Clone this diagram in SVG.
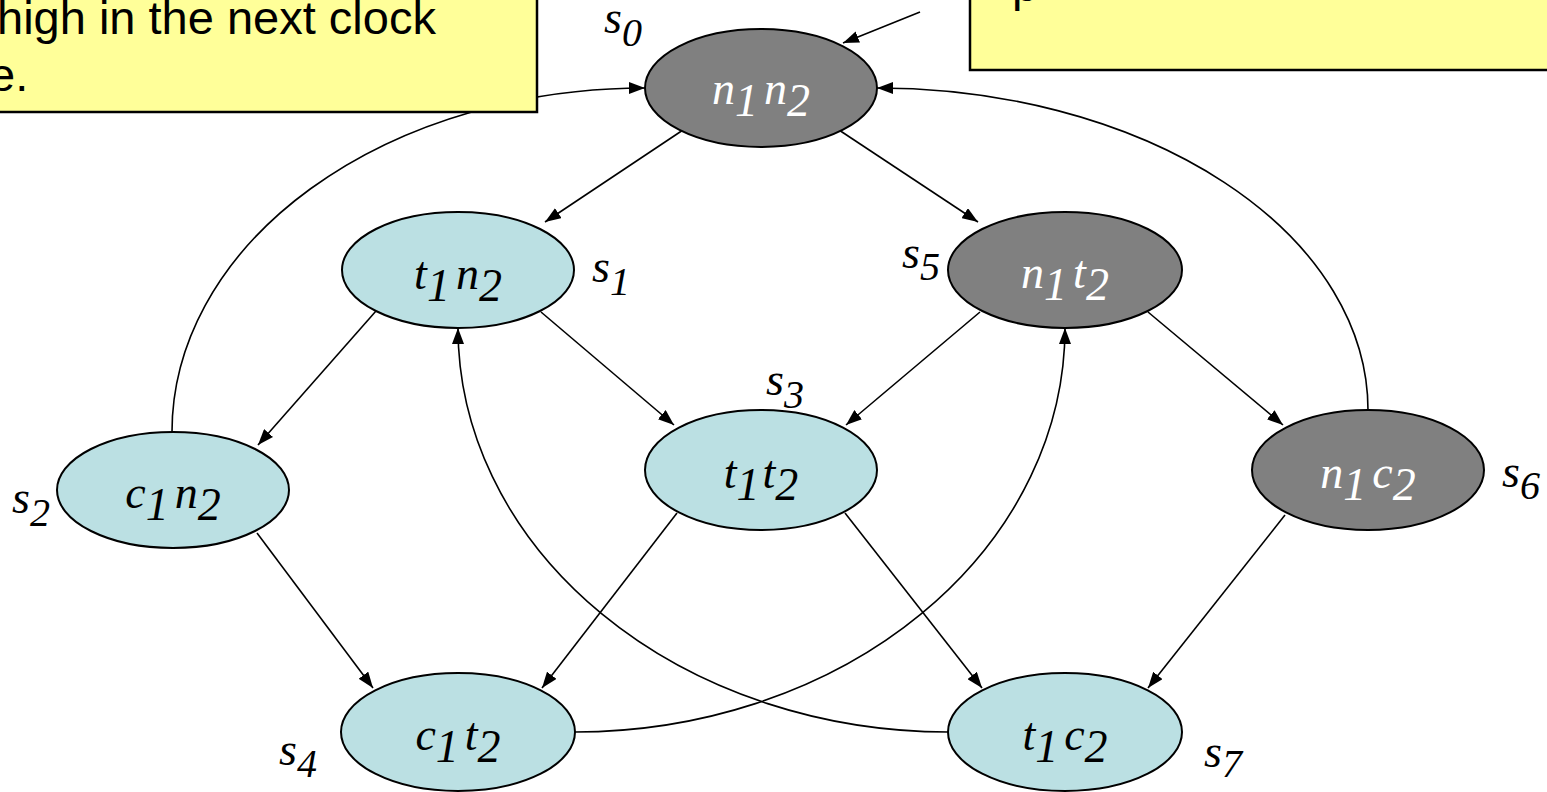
<svg xmlns="http://www.w3.org/2000/svg" width="1547" height="792" viewBox="0 0 1547 792">
  <style>
    .note { fill: #FFFF99; stroke: #000; stroke-width: 2.5; }
    .note-text { font-family: "Liberation Sans", Arial, sans-serif; font-size: 47px; fill: #000; }
    .st-dark { fill: #808080; stroke: #000; stroke-width: 2; }
    .st-light { fill: #BBE0E3; stroke: #000; stroke-width: 2; }
    .lbl { font-family: "Times New Roman", "Liberation Serif", serif; font-style: italic; font-size: 46px; text-anchor: middle; }
    .lbl-dark { fill: #fff; }
    .lbl-light { fill: #000; }
    .name { font-family: "Times New Roman", "Liberation Serif", serif; font-style: italic; font-size: 46px; fill: #000; }
    .sub { font-size: 40px; }
    .edge { fill: none; stroke: #000; stroke-width: 1.6; marker-end: url(#arrow); }
  </style>
  <defs>
    <marker id="arrow" viewBox="0 0 16 12" refX="16" refY="6" markerWidth="16" markerHeight="12" markerUnits="userSpaceOnUse" orient="auto">
      <path d="M0,0 L16,6 L0,12 z" fill="#000"/>
    </marker>
  </defs>

  <!-- transitions -->
  <g id="connectors">
    <line class="edge" x1="920" y1="12" x2="843" y2="43"/>
    <line class="edge" x1="683" y1="130" x2="545" y2="222"/>
    <line class="edge" x1="839" y1="130" x2="978" y2="222"/>
    <line class="edge" x1="376" y1="311" x2="258" y2="445"/>
    <line class="edge" x1="541" y1="312" x2="674" y2="425"/>
    <line class="edge" x1="980" y1="312" x2="846" y2="425"/>
    <line class="edge" x1="1148" y1="312" x2="1283" y2="425"/>
    <line class="edge" x1="257" y1="533" x2="373" y2="688"/>
    <line class="edge" x1="677" y1="513" x2="542" y2="688"/>
    <line class="edge" x1="845" y1="513" x2="982" y2="688"/>
    <line class="edge" x1="1285" y1="515" x2="1148" y2="688"/>
    <path class="edge" d="M172,432 A473,344 0 0 1 645,88"/>
    <path class="edge" d="M1368,410 A491,322 0 0 0 877,88"/>
    <path class="edge" d="M575,732 A490,404 0 0 0 1065,328"/>
    <path class="edge" d="M948,732 A490,404 0 0 1 458,328"/>
  </g>

  <!-- states -->
  <g id="s0">
    <ellipse class="st-dark" cx="761" cy="88" rx="116" ry="59"/>
    <text class="lbl lbl-dark" x="761" y="104">n<tspan dy="12">1</tspan><tspan dx="6" dy="-12">n</tspan><tspan dy="12">2</tspan></text>
    <text class="name" x="604" y="33">s<tspan class="sub" dy="13">0</tspan></text>
  </g>
  <g id="s1">
    <ellipse class="st-light" cx="458" cy="270" rx="116" ry="58"/>
    <text class="lbl lbl-light" x="458" y="289">t<tspan dy="12">1</tspan><tspan dx="6" dy="-12">n</tspan><tspan dy="12">2</tspan></text>
    <text class="name" x="592" y="282">s<tspan class="sub" dy="13">1</tspan></text>
  </g>
  <g id="s2">
    <ellipse class="st-light" cx="173" cy="490" rx="116" ry="58"/>
    <text class="lbl lbl-light" x="173" y="508">c<tspan dy="12">1</tspan><tspan dx="6" dy="-12">n</tspan><tspan dy="12">2</tspan></text>
    <text class="name" x="12" y="513">s<tspan class="sub" dy="13">2</tspan></text>
  </g>
  <g id="s3">
    <ellipse class="st-light" cx="761" cy="470" rx="116" ry="60"/>
    <text class="lbl lbl-light" x="761" y="488">t<tspan dy="12">1</tspan><tspan dx="3" dy="-12">t</tspan><tspan dy="12">2</tspan></text>
    <text class="name" x="766" y="395">s<tspan class="sub" dy="13">3</tspan></text>
  </g>
  <g id="s4">
    <ellipse class="st-light" cx="458" cy="732" rx="117" ry="59"/>
    <text class="lbl lbl-light" x="458" y="750">c<tspan dy="12">1</tspan><tspan dx="6" dy="-12">t</tspan><tspan dy="12">2</tspan></text>
    <text class="name" x="279" y="765">s<tspan class="sub" dy="12">4</tspan></text>
  </g>
  <g id="s5">
    <ellipse class="st-dark" cx="1065" cy="270" rx="117" ry="58"/>
    <text class="lbl lbl-dark" x="1065" y="288">n<tspan dy="12">1</tspan><tspan dx="6" dy="-12">t</tspan><tspan dy="12">2</tspan></text>
    <text class="name" x="902" y="268">s<tspan class="sub" dy="12">5</tspan></text>
  </g>
  <g id="s6">
    <ellipse class="st-dark" cx="1368" cy="470" rx="116" ry="60"/>
    <text class="lbl lbl-dark" x="1368" y="488">n<tspan dy="12">1</tspan><tspan dx="6" dy="-12">c</tspan><tspan dy="12">2</tspan></text>
    <text class="name" x="1502" y="487">s<tspan class="sub" dy="12">6</tspan></text>
  </g>
  <g id="s7">
    <ellipse class="st-light" cx="1065" cy="732" rx="117" ry="59"/>
    <text class="lbl lbl-light" x="1065" y="750">t<tspan dy="12">1</tspan><tspan dx="6" dy="-12">c</tspan><tspan dy="12">2</tspan></text>
    <text class="name" x="1204" y="767">s<tspan class="sub" dy="10">7</tspan></text>
  </g>

  <!-- call-out notes, drawn over the transitions -->
  <g id="note-left">
    <rect class="note" x="-5" y="-5" width="542" height="117"/>
    <text class="note-text" x="-3" y="34">high in the next clock</text>
    <text class="note-text" x="-11" y="91">e.</text>
  </g>
  <g id="note-right">
    <rect class="note" x="970" y="-5" width="590" height="75"/>
    <text class="note-text" x="1012" y="1">p</text>
  </g>
</svg>
